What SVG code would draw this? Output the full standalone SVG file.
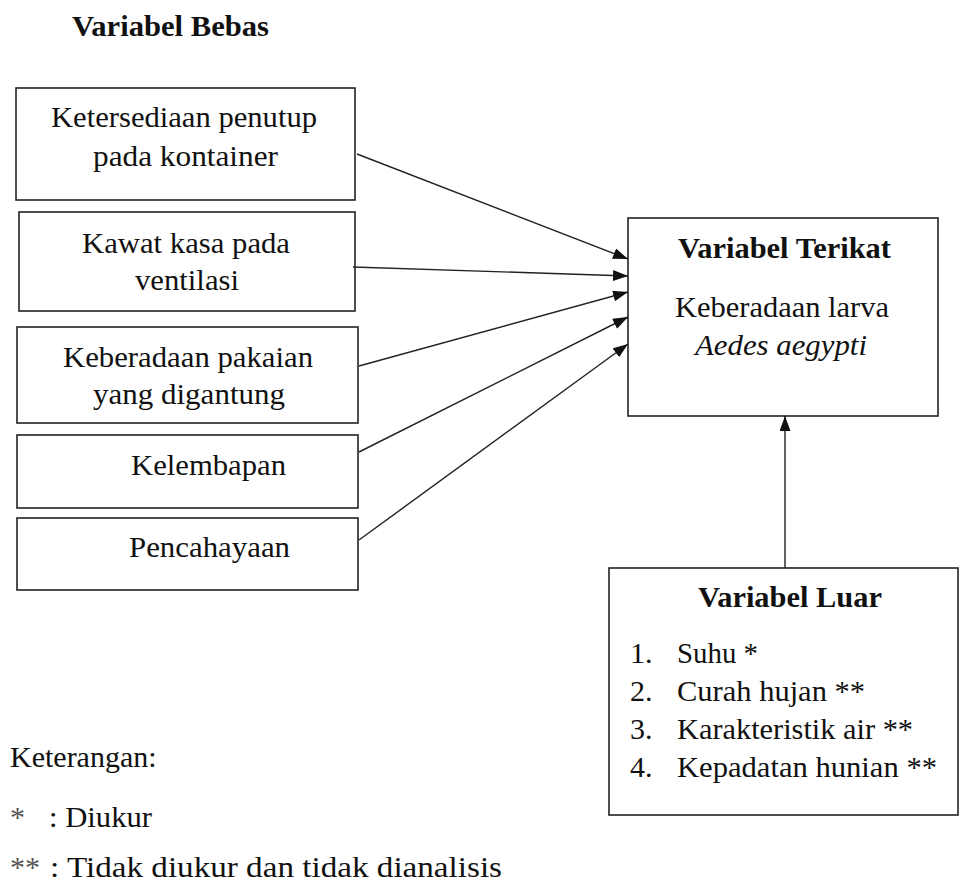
<svg xmlns="http://www.w3.org/2000/svg" width="962" height="888" viewBox="0 0 962 888">
<style>
  .box { fill: #ffffff; stroke: #222222; stroke-width: 1.6; }
  .t { font-size: 30px; fill: #111111; }
  .b { font-weight: bold; }
  .i { font-style: italic; }
  .ast { fill: #555555; }
  .conn line { stroke: #222222; stroke-width: 1.4; }
</style>
<defs>
  <marker id="arrow" markerUnits="userSpaceOnUse" markerWidth="16" markerHeight="12" refX="15" refY="5.5" orient="auto">
    <path d="M0,0 L15,5.5 L0,11 z" fill="#111111"/>
  </marker>
</defs>
<rect width="962" height="888" fill="#ffffff"/>
<g font-family="Liberation Serif, Tinos, Times New Roman, serif">

<text class="t b" x="72" y="36" textLength="197" lengthAdjust="spacingAndGlyphs">Variabel Bebas</text>

<g id="node-penutup">
  <rect class="box" x="16" y="88" width="339" height="112"/>
  <text class="t" x="51" y="127" textLength="266" lengthAdjust="spacingAndGlyphs">Ketersediaan penutup</text>
  <text class="t" x="93" y="166" textLength="185" lengthAdjust="spacingAndGlyphs">pada kontainer</text>
</g>

<g id="node-kawat">
  <rect class="box" x="19" y="212" width="336" height="99"/>
  <text class="t" x="82" y="253" textLength="208" lengthAdjust="spacingAndGlyphs">Kawat kasa pada</text>
  <text class="t" x="135" y="290" textLength="104" lengthAdjust="spacingAndGlyphs">ventilasi</text>
</g>

<g id="node-pakaian">
  <rect class="box" x="17" y="327" width="341" height="96"/>
  <text class="t" x="63" y="367" textLength="250" lengthAdjust="spacingAndGlyphs">Keberadaan pakaian</text>
  <text class="t" x="93" y="404" textLength="192" lengthAdjust="spacingAndGlyphs">yang digantung</text>
</g>

<g id="node-kelembapan">
  <rect class="box" x="17" y="435" width="341" height="73"/>
  <text class="t" x="131" y="475" textLength="155" lengthAdjust="spacingAndGlyphs">Kelembapan</text>
</g>

<g id="node-pencahayaan">
  <rect class="box" x="17" y="518" width="341" height="72"/>
  <text class="t" x="129" y="557" textLength="161" lengthAdjust="spacingAndGlyphs">Pencahayaan</text>
</g>

<g id="node-terikat">
  <rect class="box" x="628" y="218" width="310" height="198"/>
  <text class="t b" x="678" y="258" textLength="213" lengthAdjust="spacingAndGlyphs">Variabel Terikat</text>
  <text class="t" x="675" y="317" textLength="214" lengthAdjust="spacingAndGlyphs">Keberadaan larva</text>
  <text class="t i" x="695" y="355" textLength="172" lengthAdjust="spacingAndGlyphs">Aedes aegypti</text>
</g>

<g id="node-luar">
  <rect class="box" x="609" y="568" width="349" height="247"/>
  <text class="t b" x="698" y="607" textLength="184" lengthAdjust="spacingAndGlyphs">Variabel Luar</text>
  <text class="t" x="630" y="663">1.</text>
  <text class="t" x="677" y="663" textLength="81" lengthAdjust="spacingAndGlyphs">Suhu *</text>
  <text class="t" x="630" y="701">2.</text>
  <text class="t" x="677" y="701" textLength="188" lengthAdjust="spacingAndGlyphs">Curah hujan **</text>
  <text class="t" x="630" y="739">3.</text>
  <text class="t" x="677" y="739" textLength="236" lengthAdjust="spacingAndGlyphs">Karakteristik air **</text>
  <text class="t" x="630" y="777">4.</text>
  <text class="t" x="677" y="777" textLength="260" lengthAdjust="spacingAndGlyphs">Kepadatan hunian **</text>
</g>

<g id="legend">
  <text class="t" x="10" y="767">Keterangan:</text>
  <text class="t ast" x="10" y="827">*</text>
  <text class="t" x="49" y="827" textLength="103" lengthAdjust="spacingAndGlyphs">: Diukur</text>
  <text class="t ast" x="10" y="877">**</text>
  <text class="t" x="50" y="877" textLength="452" lengthAdjust="spacingAndGlyphs">: Tidak diukur dan tidak dianalisis</text>
</g>
</g>

<g id="connectors" class="conn">
  <line x1="357" y1="154" x2="628" y2="259" marker-end="url(#arrow)"/>
  <line x1="353" y1="267" x2="628" y2="276" marker-end="url(#arrow)"/>
  <line x1="359" y1="366" x2="628" y2="292" marker-end="url(#arrow)"/>
  <line x1="359" y1="452" x2="628" y2="317" marker-end="url(#arrow)"/>
  <line x1="359" y1="540" x2="628" y2="344" marker-end="url(#arrow)"/>
  <line x1="785" y1="568" x2="785" y2="416" marker-end="url(#arrow)"/>
</g>
</svg>
